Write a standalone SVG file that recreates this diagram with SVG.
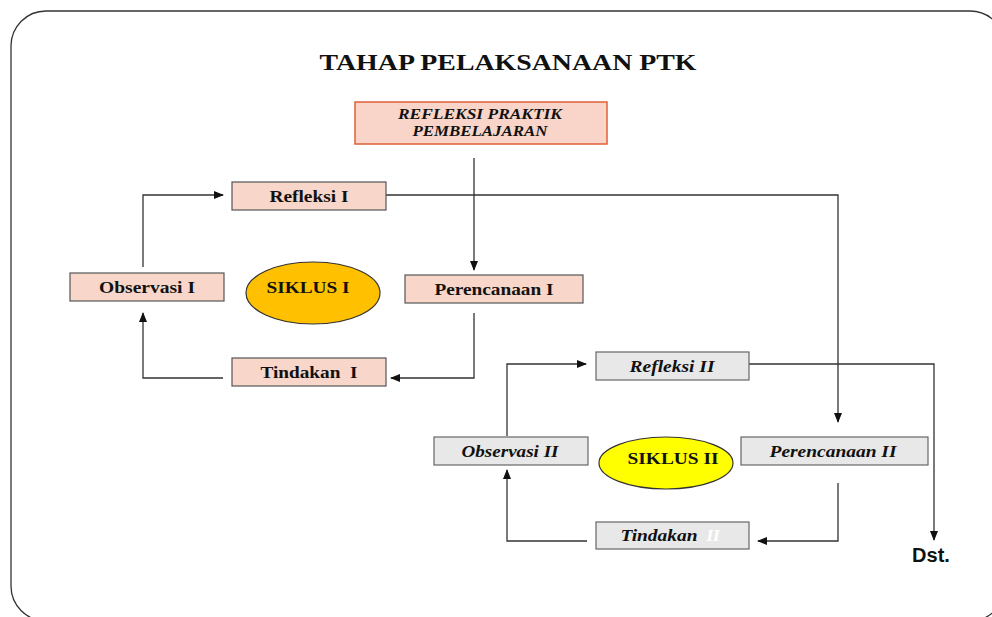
<svg xmlns="http://www.w3.org/2000/svg" width="992" height="617" viewBox="0 0 992 617">
<defs>
<marker id="ah" markerWidth="10" markerHeight="8" refX="9" refY="4" orient="auto" markerUnits="userSpaceOnUse">
<path d="M0,0 L10,4 L0,8 Z" fill="#111"/>
</marker>
<style>
.frame{fill:#fff;stroke:#333;stroke-width:1.3}
.b1{fill:#f8d7ca;stroke:#555;stroke-width:1.2}
.b2{fill:#e8e8e8;stroke:#666;stroke-width:1.2}
.t{font-family:"Liberation Serif",serif;font-weight:bold;font-size:17px;fill:#111;text-anchor:middle}
.ti{font-style:italic}
.c{fill:none;stroke:#333;stroke-width:1.3}
</style>
</defs>
<rect class="frame" x="11" y="11" width="994" height="610" rx="35" ry="35"/>
<text x="508" y="70" font-family="Liberation Serif,serif" font-weight="bold" font-size="24" text-anchor="middle" fill="#111" textLength="377" lengthAdjust="spacingAndGlyphs">TAHAP PELAKSANAAN PTK</text>
<g id="connectors">
<path class="c" d="M474,158 V270" marker-end="url(#ah)"/>
<path class="c" d="M474,313 V378 H391" marker-end="url(#ah)"/>
<path class="c" d="M223,378 H143 V313" marker-end="url(#ah)"/>
<path class="c" d="M143,267 V195 H223" marker-end="url(#ah)"/>
<path class="c" d="M386,195 H838 V422" marker-end="url(#ah)"/>
<path class="c" d="M838,483 V541 H758" marker-end="url(#ah)"/>
<path class="c" d="M587,541 H507 V470" marker-end="url(#ah)"/>
<path class="c" d="M507,436 V364 H586" marker-end="url(#ah)"/>
<path class="c" d="M749,364 H934 V540" marker-end="url(#ah)"/>
</g>
<g id="refleksi-praktik">
<rect x="355" y="102" width="252" height="42" fill="#f8d5c8" stroke="#e0603a" stroke-width="1.5"/>
<text class="t ti" x="480" y="119" style="font-size:14px" textLength="164" lengthAdjust="spacingAndGlyphs">REFLEKSI  PRAKTIK</text>
<text class="t ti" x="480" y="136" style="font-size:14px" textLength="135" lengthAdjust="spacingAndGlyphs">PEMBELAJARAN</text>
</g>
<g id="refleksi-1"><rect class="b1" x="232" y="182" width="154" height="28"/><text class="t" x="309" y="202" textLength="79" lengthAdjust="spacingAndGlyphs">Refleksi I</text></g>
<g id="observasi-1"><rect class="b1" x="70" y="273" width="154" height="28"/><text class="t" x="147" y="293" textLength="96" lengthAdjust="spacingAndGlyphs">Observasi I</text></g>
<g id="perencanaan-1"><rect class="b1" x="405" y="275" width="178" height="28"/><text class="t" x="494" y="295" textLength="119" lengthAdjust="spacingAndGlyphs">Perencanaan I</text></g>
<g id="tindakan-1"><rect class="b1" x="232" y="358" width="154" height="28"/><text class="t" x="309" y="378" xml:space="preserve" textLength="97" lengthAdjust="spacingAndGlyphs">Tindakan  I</text></g>
<g id="siklus-1"><ellipse cx="313" cy="293" rx="67" ry="31" fill="#ffc000" stroke="#333" stroke-width="1.2"/><text class="t" x="308" y="293" textLength="83" lengthAdjust="spacingAndGlyphs">SIKLUS I</text></g>
<g id="refleksi-2"><rect class="b2" x="596" y="352" width="153" height="28"/><text class="t ti" x="672" y="372" textLength="85" lengthAdjust="spacingAndGlyphs">Refleksi II</text></g>
<g id="observasi-2"><rect class="b2" x="434" y="437" width="154" height="28"/><text class="t ti" x="510" y="457" textLength="97" lengthAdjust="spacingAndGlyphs">Observasi II</text></g>
<g id="perencanaan-2"><rect class="b2" x="741" y="437" width="187" height="28"/><text class="t ti" x="833" y="457" textLength="127" lengthAdjust="spacingAndGlyphs">Perencanaan II</text></g>
<g id="tindakan-2"><rect class="b2" x="596" y="522" width="153" height="27"/><text class="t ti" x="659" y="541" textLength="77" lengthAdjust="spacingAndGlyphs">Tindakan</text><text class="t ti" x="713" y="541" style="fill:#fff">II</text></g>
<g id="siklus-2"><ellipse cx="666" cy="463" rx="67" ry="26" fill="#ffff00" stroke="#333" stroke-width="1.2"/><text class="t" x="673" y="464" textLength="91" lengthAdjust="spacingAndGlyphs">SIKLUS II</text></g>
<g id="dst"><text x="931" y="562" font-family="Liberation Sans,sans-serif" font-weight="bold" font-size="20" text-anchor="middle" fill="#111">Dst.</text></g>
</svg>
